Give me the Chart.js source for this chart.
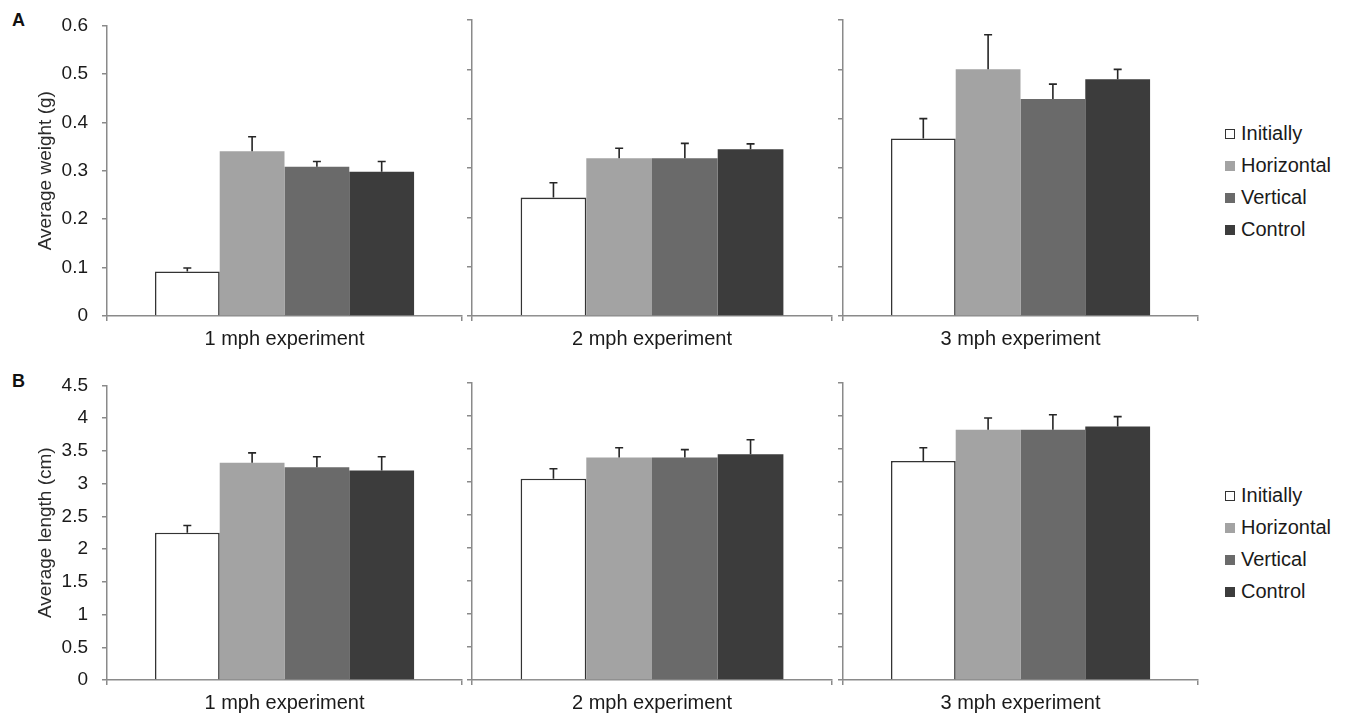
<!DOCTYPE html>
<html>
<head>
<meta charset="utf-8">
<script src="https://cdn.jsdelivr.net/npm/chart.js@4.4.1/dist/chart.umd.min.js"></script>
<style>
  body { margin: 0; background: #fff; }
  #wrap { position: relative; width: 1348px; height: 719px; font-family: 'Liberation Sans', Arial, sans-serif; }
  #wrap canvas { position: absolute; }
  .panel { position: absolute; font-weight: bold; font-size: 18px; color: #111; }
  .leg { position: absolute; font-size: 20px; color: #1a1a1a; line-height: 20px; }
  .leg span { display: inline-block; width: 10px; height: 10px; margin-right: 6px; box-sizing: border-box; vertical-align: 1px; }
</style>
</head>
<body>
<div id="wrap">
  <div class="panel" style="left:12px;top:10px">A</div>
  <div class="panel" style="left:12px;top:371px">B</div>
  <canvas id="a0" width="470" height="360" style="left:0;top:0"></canvas>
  <canvas id="a1" width="370" height="360" style="left:465px;top:0"></canvas>
  <canvas id="a2" width="370" height="360" style="left:836px;top:0"></canvas>
  <canvas id="b0" width="470" height="359" style="left:0;top:360px"></canvas>
  <canvas id="b1" width="370" height="359" style="left:465px;top:360px"></canvas>
  <canvas id="b2" width="370" height="359" style="left:836px;top:360px"></canvas>
</div>
<script>
var categories = ['1 mph experiment', '2 mph experiment', '3 mph experiment'];
var seriesNames = ['Initially', 'Horizontal', 'Vertical', 'Control'];
var seriesColors = ['#ffffff', '#a3a3a3', '#6a6a6a', '#3c3c3c'];

// panel A - average weight (g)
var weightInitially = [0.092, 0.24, 0.36];
var weightHorizontal = [0.34, 0.32, 0.50];
var weightVertical = [0.308, 0.32, 0.44];
var weightControl = [0.298, 0.338, 0.48];
var weightInitiallyErr = [0.007, 0.03, 0.04];
var weightHorizontalErr = [0.03, 0.02, 0.07];
var weightVerticalErr = [0.011, 0.03, 0.03];
var weightControlErr = [0.021, 0.011, 0.02];
var weightTicks = { max: 0.6, step: 0.1 };

// panel B - average length (cm)
var lengthInitially = [2.25, 3.05, 3.32];
var lengthHorizontal = [3.32, 3.37, 3.79];
var lengthVertical = [3.25, 3.37, 3.79];
var lengthControl = [3.20, 3.42, 3.84];
var lengthInitiallyErr = [0.11, 0.15, 0.2];
var lengthHorizontalErr = [0.15, 0.15, 0.18];
var lengthVerticalErr = [0.16, 0.12, 0.23];
var lengthControlErr = [0.21, 0.22, 0.15];
var lengthTicks = { max: 4.5, step: 0.5 };

var axisGray = '#8a8a8a';
var fontName = "'Liberation Sans', Arial, sans-serif";

var errorBars = {
  id: 'errorBars',
  afterDatasetsDraw: function(chart) {
    var ctx = chart.ctx;
    var y = chart.scales.y;
    ctx.save();
    ctx.strokeStyle = '#262626';
    ctx.lineWidth = 1.6;
    chart.data.datasets.forEach(function(ds, d) {
      var meta = chart.getDatasetMeta(d);
      meta.data.forEach(function(bar, j) {
        var top = y.getPixelForValue(ds.data[j] + ds.errors[j]);
        ctx.beginPath();
        ctx.moveTo(bar.x, bar.y);
        ctx.lineTo(bar.x, top);
        ctx.moveTo(bar.x - 4, top);
        ctx.lineTo(bar.x + 4, top);
        ctx.stroke();
      });
    });
    ctx.restore();
  }
};

function makeChart(id, cat, means, errs, ticks, yTitle, xHeight, padTop, padRight) {
  var first = cat === 0;
  new Chart(document.getElementById(id), {
    type: 'bar',
    data: {
      labels: [categories[cat]],
      datasets: seriesNames.map(function(name, s) {
        return {
          label: name,
          data: [means[s][cat]],
          errors: [errs[s][cat]],
          backgroundColor: seriesColors[s],
          borderColor: s === 0 ? '#333333' : seriesColors[s],
          borderWidth: s === 0 ? 1.6 : 0,
          borderSkipped: 'bottom',
          categoryPercentage: 0.73,
          barPercentage: 1
        };
      })
    },
    options: {
      responsive: false,
      animation: false,
      layout: { padding: { top: padTop, right: padRight, left: 0, bottom: 0 } },
      plugins: { legend: { display: false }, tooltip: { enabled: false } },
      scales: {
        x: {
          grid: { drawOnChartArea: false, drawTicks: true, tickLength: 5, offset: true, color: axisGray, lineWidth: 1.5 },
          border: { color: axisGray, width: 1.5 },
          ticks: { color: '#1a1a1a', padding: 6, font: { family: fontName, size: 20 } },
          afterFit: function(s) { s.height = xHeight; }
        },
        y: {
          min: 0,
          max: ticks.max,
          grid: { drawOnChartArea: false, drawTicks: true, tickLength: 5, color: axisGray, lineWidth: 1.5 },
          border: { color: axisGray, width: 1.5 },
          ticks: {
            stepSize: ticks.step,
            display: first,
            color: '#1a1a1a',
            padding: 14,
            font: { family: fontName, size: 19 },
            callback: function(v) { return String(parseFloat(v.toFixed(2))); }
          },
          title: {
            display: first,
            text: yTitle,
            color: '#2a2a2a',
            padding: { top: 34, bottom: 0 },
            font: { family: fontName, size: 19 }
          },
          afterFit: function(s) { s.width = first ? 107 : 7; }
        }
      }
    },
    plugins: [errorBars]
  });
}

var weightMeans = [weightInitially, weightHorizontal, weightVertical, weightControl];
var weightErrs = [weightInitiallyErr, weightHorizontalErr, weightVerticalErr, weightControlErr];
var lengthMeans = [lengthInitially, lengthHorizontal, lengthVertical, lengthControl];
var lengthErrs = [lengthInitiallyErr, lengthHorizontalErr, lengthVerticalErr, lengthControlErr];

var rightPads = [8, 3, 8];
for (var c = 0; c < 3; c++) {
  makeChart('a' + c, c, weightMeans, weightErrs, weightTicks, 'Average weight (g)', 44, 20, rightPads[c]);
  makeChart('b' + c, c, lengthMeans, lengthErrs, lengthTicks, 'Average length (cm)', 39, 23, rightPads[c]);
}

// legends next to the right-hand chart of each panel
var wrap = document.getElementById('wrap');
[133, 495].forEach(function(firstY) {
  seriesNames.forEach(function(name, s) {
    var el = document.createElement('div');
    el.className = 'leg';
    el.style.left = '1225px';
    el.style.top = (firstY + s * 32 - 10) + 'px';
    var box = document.createElement('span');
    box.style.background = seriesColors[s];
    if (s === 0) box.style.border = '1.5px solid #333';
    el.appendChild(box);
    el.appendChild(document.createTextNode(name));
    wrap.appendChild(el);
  });
});
</script>
</body>
</html>
